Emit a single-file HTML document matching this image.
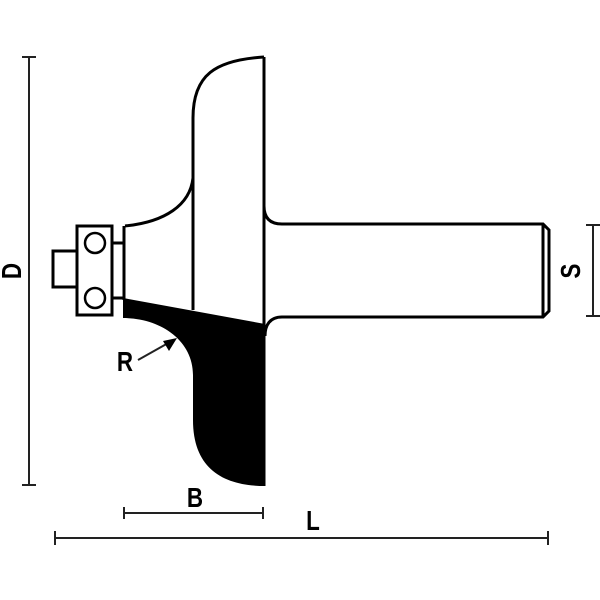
<!DOCTYPE html>
<html><head><meta charset="utf-8"><style>
html,body{margin:0;padding:0;background:#fff;width:600px;height:600px;overflow:hidden}
text{font-family:"Liberation Sans",sans-serif;font-weight:bold;fill:#000}
</style></head><body>
<svg width="600" height="600" viewBox="0 0 600 600" xmlns="http://www.w3.org/2000/svg">
<g fill="none" stroke="#000" stroke-width="3">
<path d="M123,298 L265,324 L265,486 C225,486 193,470 193,420 L193,375 C193,340 160,318 123,318 Z" fill="#000" stroke="none"/>
<path d="M264,57 C215,60 193,75 193,118 L193,310"/>
<path d="M264,57 L264,486"/>
<path d="M125,226 C165,222 190,205 193,178"/>
<path d="M124,226 L124,300"/>
<path d="M264,206 C264,218 270,224 282,224 L543,224 L549,230 L549,311 L543,317 L282,317 C270,317 265,325 265,336"/>
<path d="M543,224 L543,317"/>
<rect x="77" y="226" width="35" height="89"/>
<circle cx="95" cy="243" r="10" stroke-width="2.5"/>
<circle cx="95" cy="298" r="10" stroke-width="2.5"/>
<rect x="53" y="251" width="24" height="36"/>
<path d="M112,243 L124,243 M112,298 L124,298"/>
</g>
<g stroke="#222" stroke-width="2" fill="none">
<path d="M29,57 L29,485 M22,57 L36,57 M22,485 L36,485"/>
<path d="M593,225 L593,316 M586,225 L600,225 M586,316 L600,316"/>
<path d="M124,513 L263,513 M124,507 L124,519 M263,507 L263,519"/>
<path d="M55,538 L548,538 M55,531 L55,545 M548,531 L548,545"/>
<path d="M138,360 L170,342"/>
</g>
<polygon points="177,338 163,341 169,351" fill="#000"/>
<text transform="translate(125,371) scale(0.8,1)" font-size="28" text-anchor="middle">R</text>
<text transform="translate(195,507) scale(0.8,1)" font-size="28" text-anchor="middle">B</text>
<text transform="translate(313,530) scale(0.8,1)" font-size="28" text-anchor="middle">L</text>
<text transform="translate(21,271) rotate(-90) scale(0.8,1)" font-size="28" text-anchor="middle">D</text>
<text transform="translate(580,271) rotate(-90) scale(0.8,1)" font-size="28" text-anchor="middle">S</text>
</svg>
</body></html>
